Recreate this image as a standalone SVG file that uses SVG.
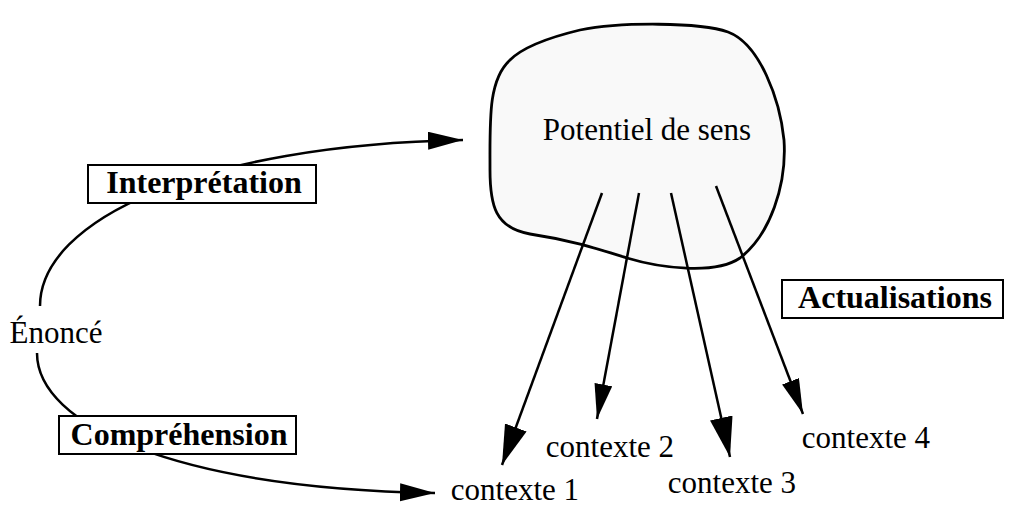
<svg xmlns="http://www.w3.org/2000/svg" width="1018" height="505" viewBox="0 0 1018 505">
<style>
.t{font-family:"Liberation Serif","Times New Roman",serif;font-size:31px;fill:#000;text-anchor:middle}
.b{font-family:"Liberation Serif","Times New Roman",serif;font-size:32px;font-weight:bold;fill:#000;text-anchor:middle}
.box{fill:#fff;stroke:#000;stroke-width:2}
.ln{fill:none;stroke:#000;stroke-width:2.5}
</style>
<defs>
<marker id="big" markerUnits="userSpaceOnUse" markerWidth="42" markerHeight="24" refX="40" refY="11.5" orient="auto" viewBox="0 0 42 24"><path d="M0,0 L40,11.5 L0,23 z" fill="#000"/></marker>
<marker id="small" markerUnits="userSpaceOnUse" markerWidth="37" markerHeight="20" refX="35" refY="9" orient="auto" viewBox="0 0 37 20"><path d="M0,0 L35,9 L0,18 z" fill="#000"/></marker>
</defs>
<g id="cloud">
<path d="M580,30 C620,22 700,22 728,32 C760,44 780,100 784,140 C787,185 770,235 740,258 C715,275 660,268 627,258 C595,248 570,240 530,234 C495,228 490,205 490,170 C490,120 488,80 510,60 C525,45 555,36 580,30 Z" fill="#f9f9f9" stroke="#000" stroke-width="2.8"/>
<text class="t" x="647" y="140">Potentiel de sens</text>
</g>
<g id="connectors">
<path class="ln" d="M40,306 C40,220 200,145 463,140" marker-end="url(#small)"/>
<path class="ln" d="M37,353 C37,425 175,488 435,493" marker-end="url(#small)"/>
<path class="ln" d="M602,193 L502,465" marker-end="url(#big)"/>
<path class="ln" d="M639,193 L597,419" marker-end="url(#small)"/>
<path class="ln" d="M671,193 L730,457" marker-end="url(#big)"/>
<path class="ln" d="M716,186 L803,414" marker-end="url(#small)"/>
</g>
<g id="interpretation">
<rect class="box" x="88" y="165" width="228" height="38"/>
<text class="b" x="204" y="193">Interprétation</text>
</g>
<g id="comprehension">
<rect class="box" x="59" y="416" width="237" height="38"/>
<text class="b" x="179" y="445">Compréhension</text>
</g>
<g id="actualisations">
<rect class="box" x="782" y="280" width="221" height="38"/>
<text class="b" x="895" y="308">Actualisations</text>
</g>
<g id="enonce"><text class="t" x="56" y="343">Énoncé</text></g>
<g id="contexte1"><text class="t" x="515" y="500">contexte 1</text></g>
<g id="contexte2"><text class="t" x="610" y="457">contexte 2</text></g>
<g id="contexte3"><text class="t" x="732" y="493">contexte 3</text></g>
<g id="contexte4"><text class="t" x="866" y="448">contexte 4</text></g>
</svg>
